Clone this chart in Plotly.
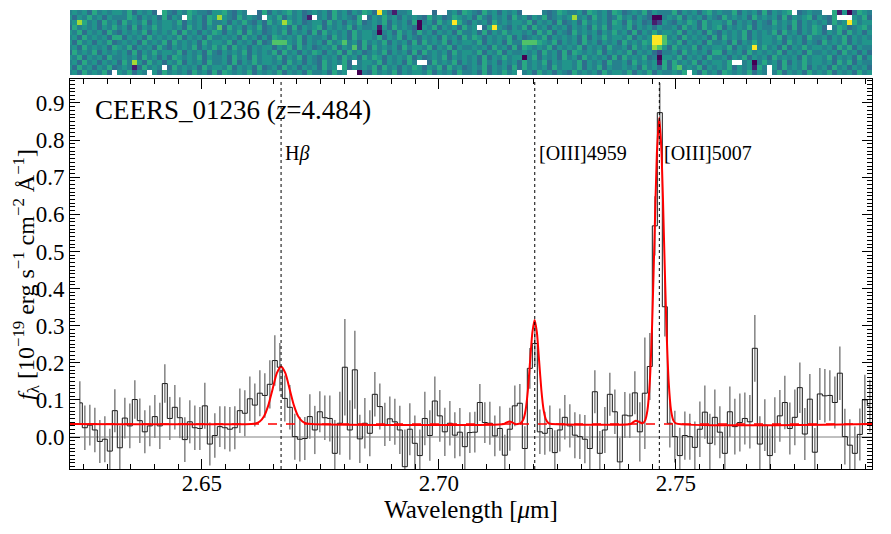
import numpy as np
import plotly.graph_objects as go

# ---- 1D spectrum ----
wave = [
    2.62422, 2.62528, 2.62633, 2.62739, 2.62844, 2.62950, 2.63055, 2.63161, 2.63266, 2.63372,
    2.63477, 2.63583, 2.63688, 2.63794, 2.63899, 2.64005, 2.64110, 2.64216, 2.64321, 2.64427,
    2.64532, 2.64638, 2.64743, 2.64849, 2.64955, 2.65060, 2.65166, 2.65271, 2.65377, 2.65482,
    2.65588, 2.65693, 2.65799, 2.65904, 2.66010, 2.66115, 2.66221, 2.66326, 2.66432, 2.66537,
    2.66643, 2.66748, 2.66854, 2.66959, 2.67065, 2.67170, 2.67276, 2.67381, 2.67487, 2.67592,
    2.67698, 2.67803, 2.67909, 2.68015, 2.68120, 2.68226, 2.68331, 2.68437, 2.68542, 2.68648,
    2.68753, 2.68859, 2.68964, 2.69070, 2.69175, 2.69281, 2.69386, 2.69492, 2.69597, 2.69703,
    2.69808, 2.69914, 2.70019, 2.70125, 2.70231, 2.70336, 2.70442, 2.70547, 2.70653, 2.70758,
    2.70864, 2.70969, 2.71075, 2.71180, 2.71286, 2.71391, 2.71497, 2.71602, 2.71708, 2.71813,
    2.71919, 2.72024, 2.72130, 2.72235, 2.72341, 2.72446, 2.72552, 2.72657, 2.72763, 2.72869,
    2.72974, 2.73080, 2.73185, 2.73291, 2.73396, 2.73502, 2.73607, 2.73713, 2.73818, 2.73924,
    2.74029, 2.74135, 2.74240, 2.74346, 2.74451, 2.74557, 2.74662, 2.74768, 2.74873, 2.74979,
    2.75084, 2.75190, 2.75295, 2.75401, 2.75507, 2.75612, 2.75718, 2.75823, 2.75929, 2.76034,
    2.76140, 2.76245, 2.76351, 2.76456, 2.76562, 2.76667, 2.76773, 2.76878, 2.76984, 2.77089,
    2.77195, 2.77300, 2.77406, 2.77511, 2.77617, 2.77722, 2.77828, 2.77933, 2.78039, 2.78145,
    2.78250, 2.78356, 2.78461, 2.78567, 2.78672, 2.78778, 2.78883, 2.78989, 2.79094,
]

flux = [
    0.092, 0.025, 0.032, 0.019, -0.012, -0.006, -0.038, 0.071, -0.029, 0.051,
    0.030, 0.101, 0.044, 0.014, 0.030, 0.055, 0.030, 0.144, 0.050, 0.080,
    0.052, -0.007, 0.041, 0.025, 0.023, 0.084, -0.019, 0.004, 0.028, 0.025,
    0.021, 0.025, 0.071, 0.064, 0.103, 0.086, 0.118, 0.112, 0.142, 0.206,
    0.188, 0.104, 0.080, 0.001, -0.006, -0.004, 0.055, 0.019, 0.068, 0.052,
    0.050, -0.044, 0.037, 0.188, 0.019, 0.181, -0.005, 0.037, 0.010, 0.115,
    0.082, 0.034, 0.049, 0.041, 0.019, -0.080, 0.021, -0.017, -0.050, 0.050,
    0.004, 0.097, 0.057, 0.014, 0.037, 0.005, 0.013, -0.026, 0.012, 0.013,
    0.093, 0.039, 0.037, 0.003, 0.023, -0.049, 0.021, 0.084, 0.091, -0.031,
    0.185, 0.252, 0.014, 0.010, 0.023, -0.042, 0.019, 0.053, 0.030, 0.005,
    0.001, -0.006, -0.031, 0.122, -0.044, 0.019, 0.115, 0.068, -0.067, 0.059,
    0.057, 0.119, 0.014, 0.118, 0.190, 0.569, 0.874, 0.351, 0.037, 0.001,
    -0.050, 0.004, 0.001, -0.028, 0.021, 0.067, -0.017, 0.053, 0.013, -0.044,
    0.068, 0.028, 0.039, 0.050, 0.041, 0.239, -0.019, 0.032, -0.050, 0.032,
    0.057, 0.093, 0.023, 0.053, 0.133, 0.008, 0.102, -0.041, 0.116, 0.111,
    0.112, 0.093, 0.172, 0.001, -0.022, -0.044, 0.007, 0.100, 0.084,
]

flux_err = [
    0.058, 0.060, 0.055, 0.060, 0.058, 0.062, 0.060, 0.058, 0.060, 0.055,
    0.060, 0.052, 0.060, 0.058, 0.055, 0.058, 0.062, 0.052, 0.058, 0.060,
    0.055, 0.060, 0.058, 0.060, 0.058, 0.062, 0.058, 0.060, 0.055, 0.058,
    0.060, 0.058, 0.060, 0.062, 0.060, 0.058, 0.062, 0.060, 0.065, 0.068,
    0.065, 0.062, 0.060, 0.062, 0.060, 0.058, 0.060, 0.065, 0.055, 0.060,
    0.062, 0.090, 0.085, 0.130, 0.080, 0.105, 0.065, 0.068, 0.062, 0.060,
    0.062, 0.058, 0.060, 0.062, 0.065, 0.100, 0.070, 0.075, 0.070, 0.072,
    0.068, 0.066, 0.070, 0.065, 0.060, 0.062, 0.065, 0.060, 0.055, 0.055,
    0.050, 0.055, 0.058, 0.055, 0.060, 0.055, 0.058, 0.055, 0.052, 0.060,
    0.055, 0.058, 0.060, 0.058, 0.062, 0.060, 0.058, 0.060, 0.058, 0.062,
    0.060, 0.065, 0.060, 0.058, 0.060, 0.062, 0.058, 0.060, 0.065, 0.062,
    0.060, 0.058, 0.080, 0.150, 0.090, 0.080, 0.080, 0.080, 0.065, 0.070,
    0.075, 0.065, 0.062, 0.070, 0.075, 0.072, 0.080, 0.075, 0.070, 0.072,
    0.068, 0.075, 0.078, 0.070, 0.072, 0.090, 0.075, 0.070, 0.072, 0.075,
    0.070, 0.072, 0.070, 0.075, 0.068, 0.070, 0.068, 0.065, 0.070, 0.072,
    0.068, 0.070, 0.072, 0.075, 0.070, 0.072, 0.070, 0.068, 0.070,
]

# best-fit model, sampled off the red curve
model_wave = [
    2.62215, 2.6604, 2.6613, 2.6622, 2.6631, 2.6640, 2.6649, 2.6658, 2.6667, 2.6676,
    2.6685, 2.6694, 2.6703, 2.6712, 2.6721, 2.6730, 2.7137, 2.7143, 2.7149, 2.7155,
    2.7161, 2.7169, 2.71735, 2.71783, 2.7183, 2.71878, 2.71925, 2.71973, 2.7202, 2.72068,
    2.72115, 2.72163, 2.7221, 2.72258, 2.72305, 2.72353, 2.7404, 2.7410, 2.7416, 2.7422,
    2.7430, 2.7435, 2.7440, 2.7445, 2.7450, 2.7455, 2.7460, 2.7465, 2.7470, 2.7475,
    2.7480, 2.7485, 2.7490, 2.7495, 2.7500, 2.7914,
]
model_flux = [
    0.035, 0.0353, 0.0367, 0.0418, 0.056, 0.0853, 0.129, 0.172, 0.190, 0.172,
    0.129, 0.0853, 0.056, 0.0418, 0.0367, 0.0353, 0.035, 0.0392, 0.042, 0.0392,
    0.035, 0.0356, 0.0381, 0.0473, 0.0729, 0.126, 0.205, 0.282, 0.315, 0.282,
    0.205, 0.126, 0.0729, 0.0473, 0.0381, 0.0356, 0.035, 0.040, 0.044, 0.041,
    0.0368, 0.0442, 0.0712, 0.1466, 0.303, 0.535, 0.763, 0.860, 0.763, 0.535,
    0.303, 0.1466, 0.0712, 0.0442, 0.0368, 0.035,
]
continuum = 0.035

redshift = 4.484
line_names = ["H<i>β</i>", "[OIII]4959", "[OIII]5007"]
line_rest_um = [0.486268, 0.496030, 0.500824]

# ---- 2D spectrum, rows top to bottom; digit = level 0-9, '.' = masked ----
img_wave0 = 2.62211
img_dwave = 0.0010552
level_values = [0.0, 0.08, 0.22, 0.36, 0.44, 0.52, 0.60, 0.72, 0.86, 1.0]
img_rows = [
    "4545364545" "54635453.6" "4354654435" "564354..36" "3545645345" "4536453546" "539531445." "...3..4536"
    "5436453545" "3....43465" "4453654536" "5345463544" "4635453564" "5446354536" "35456.3454" "4..6150365" "4",
    "5354645354" "4465354536" "354.645365" "854364543." "546354531." "453645436." "3546453545" "4364534654"
    "5364354536" "4535463454" "5845364534" "6453543004" "5463545354" "3645453645" "4536354563" "5436...546" "3",
    "4586453645" "3645463545" "5463545364" "4535464353" "6458645345" "5364535463" "4546354536" "0453645964"
    "3545364545" "5463545363" "4536454536" "5364534125" "4354653645" "5463545354" "3645463545" "4536459645" "5",
    "3645453546" "4536354645" "5453645354" "7364535463" "4545363545" "6354546354" "4515364543" "0546354536"
    "45.3695435" "4636453545" "3545364635" "5463545354" "4536453645" "6354546354" "4545363546" "53.4653456" "4",
    "5463545364" "3545463545" "4636453546" "5354636453" "4546354536" "3645453645" "5404536453" "6453545364"
    "4536354645" "5453646354" "3645453546" "4536354645" "5463545364" "3545463545" "4636453546" "5354636453" "5",
    "4536454536" "6354536454" "5463545364" "4545364535" "3654546354" "4536453645" "5463546354" "3545364536"
    "4653545463" "5345463545" "4536354645" "5463545997" "4536454536" "3645463545" "5463545364" "4535463545" "4",
    "5364535463" "4545364546" "3645453645" "5463545363" "4777546354" "5364574536" "4546354536" "3645463545"
    "5463545364" "4777654635" "4536453545" "3645465997" "5463545364" "4536354645" "5453645354" "3645463545" "5",
    "4536454536" "5463545364" "3545463546" "4636453545" "5354636453" "4546354736" "3645453645" "5463546354"
    "4545364536" "3654546354" "5463545364" "4536454875" "3645463545" "5463545946" "4536354645" "5453646354" "4",
    "3645463545" "4536354645" "5463545364" "3545463545" "4636453546" "5354636453" "4546354536" "3645453645"
    "5463546354" "4545364536" "3654546354" "5463545324" "4536454536" "6354536454" "5463545364" "4545364535" "3",
    "5463545364" "4545364535" "3654546354" "4536453645" "5463546354" "3545364536" "4653545463" "5345463545"
    "4536354645" "5046354536" "4536454536" "3645463405" "5463545364" "4535463545" "3645453645" "5463545363" "5",
    "4536453545" "3648536453" "5463545364" "4536354645" "5453645354" "3645463.45" "5463545364" "..36454635"
    "4536453545" "3645463545" "5463545364" "4536454516" "3645463545" "546..45046" "4536354645" "5453646354" "4",
    "5364535463" "454136454." "3645453645" "5463545363" "4536453545" "3645.63545" "4636453546" "5354636453"
    "4546354536" "3645453645" "5463546354" "4545364536" "3674546354" "5463545164" ".536454635" "4536453545" "3",
    "453645463." "546354.536" "4545364536" "3654546354" "5463545364" "453645..04" "3645463545" "5463545364"
    "4536354645" ".453645354" "3645453645" "5463546354" "4546.53645" "3654546354" ".463545364" "5463545364" "5",
]

img = np.array([[np.nan if ch == "." else level_values[int(ch)] for ch in row] for row in img_rows])

SERIF = "Liberation Serif, Times New Roman, DejaVu Serif, serif"

fig = go.Figure()

fig.add_trace(go.Heatmap(
    z=img, x0=img_wave0, dx=img_dwave, y0=0, dy=1,
    colorscale="Viridis", zmin=0, zmax=1, showscale=False,
    xaxis="x2", yaxis="y2", hoverongaps=False,
))

# error bars first, then the step spectrum over them
fig.add_trace(go.Scatter(
    x=wave, y=flux, mode="markers",
    marker=dict(size=1, color="rgba(0,0,0,0)"),
    error_y=dict(type="data", array=flux_err, color="#8a8a8a", thickness=1.6, width=0),
    showlegend=False,
))
fig.add_trace(go.Scatter(
    x=wave, y=flux, mode="lines",
    line=dict(shape="hvh", color="#1a1a1a", width=1),
    showlegend=False,
))
fig.add_trace(go.Scatter(
    x=[model_wave[0], model_wave[-1]], y=[continuum, continuum], mode="lines",
    line=dict(color="red", width=1.5, dash="dash"),
    showlegend=False,
))
fig.add_trace(go.Scatter(
    x=model_wave, y=model_flux, mode="lines",
    line=dict(color="red", width=2, shape="spline", smoothing=0.6),
    showlegend=False,
))

# zero level
fig.add_shape(type="line", xref="x domain", yref="y", x0=0, x1=1, y0=0, y1=0,
              line=dict(color="#808080", width=1), layer="below")

# emission line markers
for name, rest in zip(line_names, line_rest_um):
    obs = rest * (1 + redshift)
    fig.add_shape(type="line", xref="x", yref="y domain", x0=obs, x1=obs, y0=0, y1=1,
                  line=dict(color="black", width=1, dash="dot"))
    fig.add_annotation(x=obs + 0.0005, y=0.765, xref="x", yref="y", text=name,
                       showarrow=False, xanchor="left", yanchor="middle",
                       font=dict(family=SERIF, size=20, color="black"))

fig.add_annotation(x=0.029, y=0.881, xref="x domain", yref="y",
                   text=f"CEERS_01236 (<i>z</i>={redshift})",
                   showarrow=False, xanchor="left", yanchor="middle",
                   font=dict(family=SERIF, size=27, color="black"))

# y-axis label placed as a rotated annotation so it clears the tick labels
fig.add_annotation(x=-0.055, y=0.5, xref="paper", yref="y domain",
                   text="<i>f</i><sub>λ</sub> [10<sup>−19</sup> erg s<sup>−1</sup> cm<sup>−2</sup> Å<sup>−1</sup>]",
                   textangle=-90, showarrow=False, xanchor="center", yanchor="middle",
                   font=dict(family=SERIF, size=24, color="black"))

axis_common = dict(
    showline=True, linecolor="black", linewidth=1, mirror="allticks",
    ticks="inside", ticklen=10, tickwidth=1, tickcolor="black",
    showgrid=False, zeroline=False, automargin=False,
    tickfont=dict(family=SERIF, size=23, color="black"),
)

# the page adds an 8 px body offset, so margins are trimmed to compensate
fig.update_layout(
    width=891, height=534,
    margin=dict(l=62, r=27, t=2, b=73),
    paper_bgcolor="white", plot_bgcolor="white",
    showlegend=False,
    font=dict(family=SERIF, color="black"),
    xaxis=dict(
        **axis_common, domain=[0, 1], range=[2.62215, 2.7914], anchor="y",
        dtick=0.05, tick0=2.6, tickformat=".2f", ticklabelstandoff=-7,
        minor=dict(dtick=0.005, ticklen=5, tickwidth=1, ticks="inside", tickcolor="black"),
        title=dict(text="Wavelength [<i>μ</i>m]", font=dict(family=SERIF, size=25, color="black"),
                   standoff=2),
    ),
    yaxis=dict(
        **axis_common, domain=[0, 0.8497], range=[-0.0862, 0.9647], anchor="x",
        dtick=0.1, tick0=0, tickformat=".1f",
        minor=dict(dtick=0.01, ticklen=5, tickwidth=1, ticks="inside", tickcolor="black"),
    ),
    xaxis2=dict(domain=[0, 1], matches="x", anchor="y2", visible=False),
    yaxis2=dict(domain=[0.8584, 1], range=[12.5, -0.5], anchor="x2", visible=False),
)

fig.write_html("out.html")
